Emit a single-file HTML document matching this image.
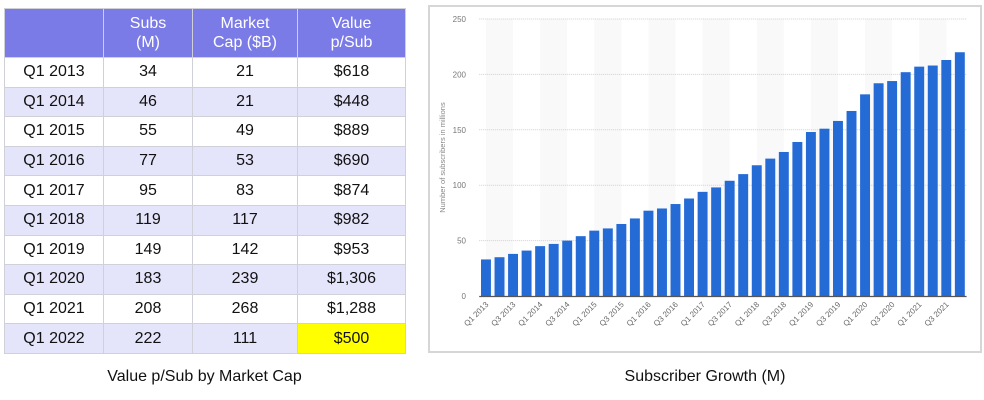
<!DOCTYPE html>
<html><head><meta charset="utf-8">
<style>
body{margin:0;width:984px;height:400px;background:#fff;font-family:"Liberation Sans",Arial,sans-serif;position:relative;overflow:hidden}
table{position:absolute;left:4px;top:8px;border-collapse:collapse;width:401px;table-layout:fixed}
td,th{border:1px solid #d0d0d8;text-align:center;font-size:16px;color:#111;height:28.6px;padding:0}
th{background:#7b7be8;color:#fff;font-weight:normal;height:48px;line-height:19px}
tr.a td{background:#e4e4fa}
tr.a td.hl{background:#ffff00}
.cap{position:absolute;font-size:16px;color:#111;text-align:center}
#chart{position:absolute;left:428px;top:5px;width:554px;height:348px;border:2px solid #d6d6d6;box-sizing:border-box}
</style></head><body>
<table>
<colgroup><col style="width:99px"><col style="width:89px"><col style="width:105px"><col style="width:108px"></colgroup>
<tr><th></th><th>Subs<br>(M)</th><th>Market<br>Cap ($B)</th><th>Value<br>p/Sub</th></tr>
<tr><td>Q1 2013</td><td>34</td><td>21</td><td>$618</td></tr>
<tr class="a"><td>Q1 2014</td><td>46</td><td>21</td><td>$448</td></tr>
<tr><td>Q1 2015</td><td>55</td><td>49</td><td>$889</td></tr>
<tr class="a"><td>Q1 2016</td><td>77</td><td>53</td><td>$690</td></tr>
<tr><td>Q1 2017</td><td>95</td><td>83</td><td>$874</td></tr>
<tr class="a"><td>Q1 2018</td><td>119</td><td>117</td><td>$982</td></tr>
<tr><td>Q1 2019</td><td>149</td><td>142</td><td>$953</td></tr>
<tr class="a"><td>Q1 2020</td><td>183</td><td>239</td><td>$1,306</td></tr>
<tr><td>Q1 2021</td><td>208</td><td>268</td><td>$1,288</td></tr>
<tr class="a"><td>Q1 2022</td><td>222</td><td>111</td><td class="hl">$500</td></tr>
</table>
<div class="cap" style="left:4px;width:401px;top:368px">Value p/Sub by Market Cap</div>
<div id="chart"></div>
<svg id="svg" width="984" height="400" style="position:absolute;left:0;top:0"></svg>
<div class="cap" style="left:428px;width:554px;top:368px">Subscriber Growth (M)</div>
<script>
const quarters=["Q1","Q2","Q3","Q4"];
const years=[2013,2014,2015,2016,2017,2018,2019,2020,2021];
const subs=[33,35,38,41,45,47,50,54,59,61,65,70,77,79,83,88,94,98,104,110,118,124,130,139,148,151,158,167,182,192,194,202,207,208,213,220];
const yTicks=[0,50,100,150,200,250];
const cats=[];years.forEach(y=>quarters.forEach(q=>cats.push(q+" "+y)));
const NS="http://www.w3.org/2000/svg",svg=document.getElementById('svg');
const L=479.2,R=966.6,T=19,B=296,yMax=250;
const slot=(R-L)/cats.length;
const x=i=>L+i*slot, y=v=>B-(v/yMax)*(B-T);
function mk(t,a){const e=document.createElementNS(NS,t);for(const k in a)e.setAttribute(k,a[k]);svg.appendChild(e);return e;}
for(let i=0;i+1<cats.length;i+=4){const b=mk('rect',{x:x(i)+slot/2,y:T,width:slot*2,height:B-T,fill:'#f9f9f9'});

}
yTicks.forEach(t=>{if(t>0){const g=mk('line',{x1:L,x2:R,y1:y(t),y2:y(t),stroke:'#cfcfcf','stroke-dasharray':'1,1'});

}
const l=mk('text',{x:466,y:y(t)+3,'text-anchor':'end','font-size':'8',fill:'#777'});l.textContent=t;

});
subs.forEach((v,i)=>{const r=mk('rect',{x:x(i)+1.8,y:y(v),width:slot-3.6,height:B-y(v),fill:'#256bd6'});

});
const ax=mk('line',{x1:L,x2:R,y1:B+0.5,y2:B+0.5,stroke:'#555','stroke-width':1.2});


cats.forEach((c,i)=>{if(i%2)return;const cx=x(i)+slot/2+3,cy=B+9;
const t=mk('text',{x:cx,y:cy,'text-anchor':'end','font-size':'8',fill:'#666',transform:`rotate(-45 ${cx} ${cy})`});t.textContent=c;

});
const yt=mk('text',{x:445,y:(T+B)/2,'text-anchor':'middle','font-size':'7.5',fill:'#888',transform:`rotate(-90 445 ${(T+B)/2})`});
yt.textContent='Number of subscribers in millions';


</script>
</body></html>
